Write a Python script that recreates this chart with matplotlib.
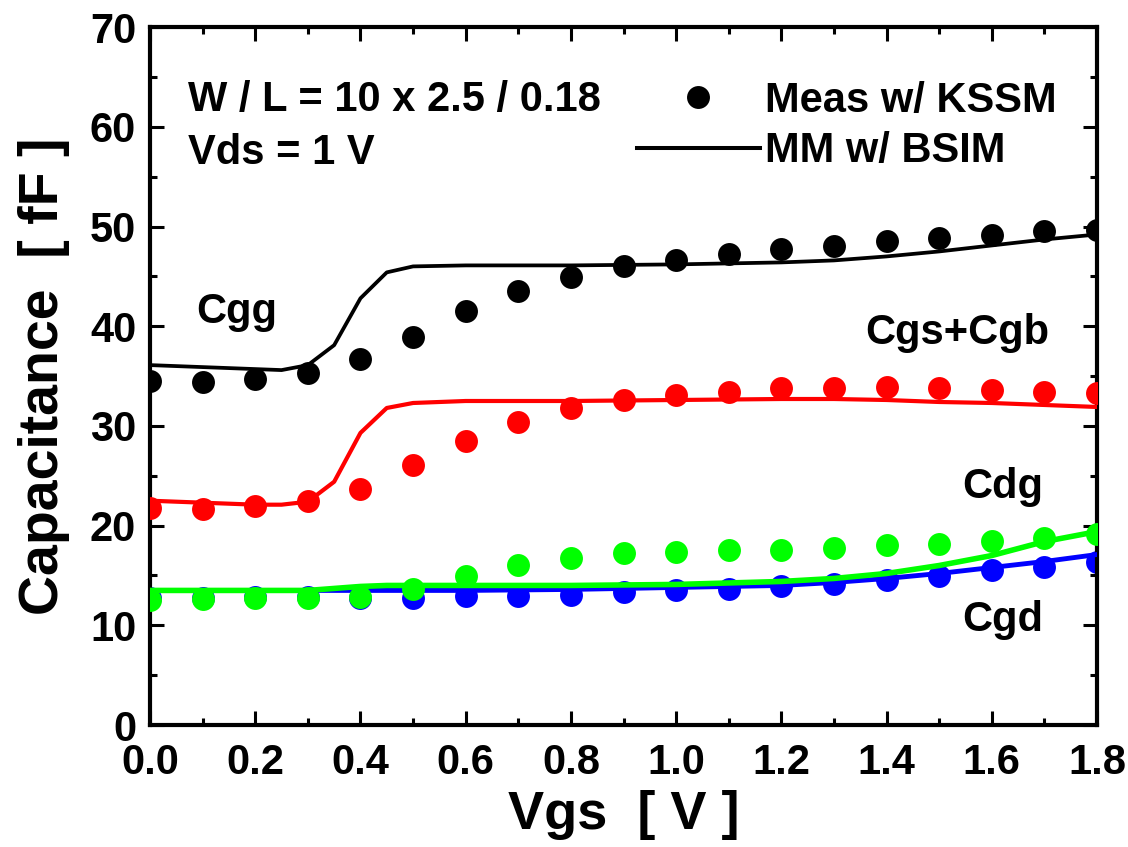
import matplotlib
matplotlib.use("Agg")
import matplotlib.pyplot as plt
from matplotlib.lines import Line2D
from matplotlib.ticker import MultipleLocator

plt.rcParams['font.family'] = ['Liberation Sans', 'DejaVu Sans']
plt.rcParams['font.weight'] = 'bold'

# measured points (KSSM)
vgs_meas = [0.0, 0.1, 0.2, 0.3, 0.4, 0.5, 0.6, 0.7, 0.8, 0.9,
            1.0, 1.1, 1.2, 1.3, 1.4, 1.5, 1.6, 1.7, 1.8]
cgg_meas = [34.5, 34.4, 34.7, 35.3, 36.7, 38.9, 41.5, 43.5, 44.9, 46.0,
            46.6, 47.2, 47.7, 48.0, 48.5, 48.8, 49.1, 49.5, 49.7]
cgs_meas = [21.8, 21.7, 22.0, 22.5, 23.7, 26.1, 28.5, 30.4, 31.8, 32.6,
            33.1, 33.4, 33.8, 33.8, 33.9, 33.8, 33.6, 33.4, 33.3]
cdg_meas = [12.5, 12.6, 12.7, 12.7, 12.8, 13.6, 14.9, 16.1, 16.8, 17.3,
            17.4, 17.6, 17.6, 17.8, 18.1, 18.2, 18.5, 18.8, 19.2]
cgd_meas = [12.7, 12.7, 12.8, 12.8, 12.7, 12.7, 12.9, 12.9, 13.0, 13.3,
            13.5, 13.6, 13.9, 14.1, 14.5, 14.9, 15.5, 15.9, 16.4]

# macro model (BSIM)
vgs_mm = [0.0, 0.1, 0.2, 0.25, 0.3, 0.35, 0.4, 0.45, 0.5, 0.6,
          0.8, 1.0, 1.2, 1.3, 1.4, 1.5, 1.6, 1.7, 1.8]
cgg_mm = [36.1, 35.9, 35.7, 35.6, 36.1, 38.1, 42.8, 45.4, 46.0, 46.1,
          46.1, 46.2, 46.4, 46.6, 47.0, 47.5, 48.1, 48.7, 49.2]
cgs_mm = [22.5, 22.3, 22.1, 22.1, 22.4, 24.4, 29.3, 31.8, 32.3, 32.5,
          32.5, 32.6, 32.7, 32.7, 32.6, 32.4, 32.3, 32.1, 31.9]
cdg_mm = [13.5, 13.5, 13.5, 13.5, 13.5, 13.7, 13.9, 14.0, 14.0, 14.0,
          14.0, 14.1, 14.4, 14.7, 15.2, 16.0, 17.0, 18.4, 19.4]
cgd_mm = [13.5, 13.5, 13.5, 13.5, 13.5, 13.5, 13.5, 13.5, 13.5, 13.5,
          13.6, 13.8, 14.0, 14.3, 14.7, 15.2, 15.8, 16.4, 17.1]

green = '#00ff00'
blue = '#0000ff'
red = '#ff0000'
ms = 16.5

fig = plt.figure(figsize=(11.28, 8.47), dpi=100)
ax = fig.add_axes([0.133, 0.144, 0.8395, 0.824])

ax.plot(vgs_meas, cgd_meas, 'o', color=blue, ms=ms, mec='none', zorder=2)
ax.plot(vgs_mm, cgd_mm, '-', color=blue, lw=3.5, zorder=3)
ax.plot(vgs_meas, cdg_meas, 'o', color=green, ms=ms, mec='none', zorder=4)
ax.plot(vgs_mm, cdg_mm, '-', color=green, lw=4, zorder=5)
ax.plot(vgs_meas, cgs_meas, 'o', color=red, ms=ms, mec='none', zorder=4)
ax.plot(vgs_mm, cgs_mm, '-', color=red, lw=3, zorder=5)
ax.plot(vgs_meas, cgg_meas, 'o', color='black', ms=ms, mec='none', zorder=4)
ax.plot(vgs_mm, cgg_mm, '-', color='black', lw=2.7, zorder=5)

ax.set_xlim(0, 1.8)
ax.set_ylim(0, 70)
ax.xaxis.set_major_locator(MultipleLocator(0.2))
ax.xaxis.set_minor_locator(MultipleLocator(0.1))
ax.yaxis.set_major_locator(MultipleLocator(10))
ax.yaxis.set_minor_locator(MultipleLocator(5))
ax.xaxis.set_major_formatter(plt.FuncFormatter(lambda v, p: f'{v:.1f}'))
ax.tick_params(which='both', direction='in', top=True, right=True,
               width=2.2, labelsize=30, pad=10)
ax.tick_params(axis='x', which='major', pad=13)
ax.tick_params(which='major', length=10)
ax.tick_params(which='minor', length=5)
for s in ax.spines.values():
    s.set_linewidth(3)

ax.set_xlabel('Vgs  [ V ]', fontsize=39, fontweight='bold', labelpad=5)
ax.set_ylabel('Capacitance  [ fF ]', fontsize=40, fontweight='bold', labelpad=14)

tkw = dict(fontsize=30, fontweight='bold', va='center')
ax.text(0.072, 62.7, 'W / L = 10 x 2.5 / 0.18', ha='left', **tkw)
ax.text(0.072, 57.4, 'Vds = 1 V', ha='left', **tkw)
ax.text(0.165, 41.4, 'Cgg', ha='center', **tkw)
ax.text(1.534, 39.3, 'Cgs+Cgb', ha='center', **tkw)
ax.text(1.62, 23.9, 'Cdg', ha='center', **tkw)
ax.text(1.62, 10.5, 'Cgd', ha='center', **tkw)

handles = [Line2D([], [], ls='none', marker='o', color='black', ms=ms, mec='none'),
           Line2D([], [], ls='-', color='black', lw=2.9)]
ax.legend(handles, ['Meas w/ KSSM', 'MM w/ BSIM'], loc='center left',
          bbox_to_anchor=(0.514, 0.858), frameon=False, borderpad=0,
          borderaxespad=0, handlelength=2.95, handletextpad=0.12,
          labelspacing=0.25, prop={'size': 30, 'weight': 'bold'})

fig.savefig('out.png', dpi=100)
